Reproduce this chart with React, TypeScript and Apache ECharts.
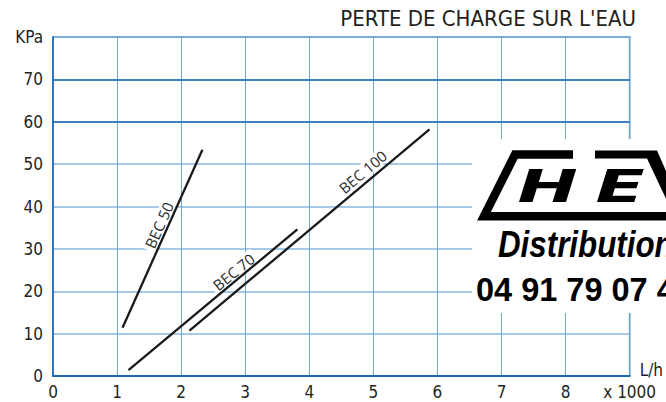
import React, { useEffect, useRef } from 'react';
import * as echarts from 'echarts';

// ---- data ----
const chartTitle = "PERTE DE CHARGE SUR L'EAU";
const xTickLabels = ['0', '1', '2', '3', '4', '5', '6', '7', '8', 'x 1000'];
const yTickLabels = ['0', '10', '20', '30', '40', '50', '60', '70', 'KPa'];
const xUnitName = 'L/h';

const seriesNames = ['BEC 50', 'BEC 70', 'BEC 100'];
const bec50Flow = [1.085, 2.332];
const bec50Loss = [11.4, 53.4];
const bec70Flow = [1.178, 3.814];
const bec70Loss = [1.4, 34.6];
const bec100Flow = [2.13, 5.876];
const bec100Loss = [10.7, 58.2];

const labelFlow = [1.654, 2.817, 4.833];
const labelLoss = [35.6, 24.6, 48.2];
const labelAngles = [66, 39, 40];

const darkGridLevels = [60, 70];

const logoLetters = ['H', 'E'];
const logoTagline = 'Distribution';
const logoPhone = '04 91 79 07 4';

// ---- styles ----
const NARROW = "'Liberation Sans Narrow', 'DejaVu Sans Condensed', 'Liberation Sans', sans-serif";
const DARK_BLUE = '#1c69b4';
const LIGHT_BLUE = '#86b7e2';
const VLINE_BLUE = '#6ea7da';
const TEXT = '#231f20';
const LINE_COLOR = '#1a1a1a';

export default function App() {
  const ref = useRef<HTMLDivElement>(null);

  useEffect(() => {
    if (!ref.current) return;
    const chart = echarts.init(ref.current, undefined, { renderer: 'svg' });

    const flows = [bec50Flow, bec70Flow, bec100Flow];
    const losses = [bec50Loss, bec70Loss, bec100Loss];

    const series: any[] = seriesNames.map((name, i) => ({
      name,
      type: 'line',
      data: flows[i].map((f, j) => [f, losses[i][j]]),
      showSymbol: false,
      symbol: 'none',
      lineStyle: { color: LINE_COLOR, width: 2.3 },
      z: 5,
      markPoint: {
        silent: true,
        symbol: 'circle',
        symbolSize: 0,
        data: [{ coord: [labelFlow[i], labelLoss[i]], name }],
        label: {
          show: true,
          position: 'inside',
          formatter: name,
          rotate: labelAngles[i],
          color: '#2b2b2b',
          fontSize: 15,
          fontFamily: "'Open Sans', 'Noto Sans', sans-serif",
          backgroundColor: '#ffffff',
          padding: [0, 3],
        },
      },
      ...(i === 0
        ? {
            markLine: {
              silent: true,
              symbol: 'none',
              label: { show: false },
              lineStyle: { color: DARK_BLUE, width: 1.5, type: 'solid' },
              data: darkGridLevels.map((v) => ({ yAxis: v })),
              z: 1,
            },
          }
        : {}),
    }));

    chart.setOption({
      animation: false,
      title: {
        text: chartTitle,
        right: 30,
        top: 7,
        padding: 0,
        textStyle: { fontSize: 22, fontWeight: 'normal', color: TEXT, fontFamily: NARROW },
      },
      grid: {
        left: 53,
        top: 37,
        width: 581,
        height: 339,
        show: true,
        borderColor: DARK_BLUE,
        borderWidth: 1.5,
        backgroundColor: 'transparent',
      },
      xAxis: {
        type: 'value',
        min: 0,
        max: 9,
        interval: 1,
        name: xUnitName,
        nameLocation: 'end',
        nameGap: 10,
        nameTextStyle: {
          fontSize: 17,
          color: TEXT,
          fontFamily: NARROW,
          verticalAlign: 'bottom',
          padding: [0, 0, -2, 0],
        },
        axisLine: { show: true, lineStyle: { color: DARK_BLUE, width: 2 } },
        axisTick: { show: false },
        axisLabel: {
          margin: 7,
          fontSize: 17,
          color: TEXT,
          fontFamily: NARROW,
          formatter: (v: number) => xTickLabels[Math.round(v)] ?? '',
        },
        splitLine: { show: true, lineStyle: { color: VLINE_BLUE, width: 1 } },
      },
      yAxis: {
        type: 'value',
        min: 0,
        max: 80,
        interval: 10,
        axisLine: { show: true, lineStyle: { color: DARK_BLUE, width: 1.5 } },
        axisTick: { show: false },
        axisLabel: {
          margin: 10,
          fontSize: 17,
          color: TEXT,
          fontFamily: NARROW,
          formatter: (v: number) => yTickLabels[Math.round(v / 10)] ?? '',
        },
        splitLine: { show: true, lineStyle: { color: LIGHT_BLUE, width: 1.5 } },
      },
      series,
      graphic: [
        {
          type: 'rect',
          z: 100,
          shape: { x: 472, y: 139, width: 200, height: 174 },
          style: { fill: '#ffffff' },
        },
        {
          type: 'polyline',
          z: 101,
          shape: { points: [[573, 154.5], [515, 154.5], [484, 216.2], [672, 216.2]] },
          style: { stroke: '#000', lineWidth: 8.5, fill: 'none', lineJoin: 'miter' },
        },
        {
          type: 'polygon',
          z: 101,
          shape: { points: [[595, 150.5], [657, 150.5], [680, 203], [668, 203], [647, 158.5], [595, 158.5]] },
          style: { fill: '#000' },
        },
        {
          type: 'text',
          z: 102,
          x: 547.7,
          y: 186.7,
          scaleX: 1.6,
          style: {
            text: logoLetters[0],
            fontSize: 45,
            fontWeight: 'bold',
            fontStyle: 'italic',
            fontFamily: "'DejaVu Sans', sans-serif",
            fill: '#000',
            align: 'center',
            verticalAlign: 'middle',
          },
        },
        {
          type: 'text',
          z: 102,
          x: 620.2,
          y: 186.7,
          scaleX: 1.6,
          style: {
            text: logoLetters[1],
            fontSize: 45,
            fontWeight: 'bold',
            fontStyle: 'italic',
            fontFamily: "'DejaVu Sans', sans-serif",
            fill: '#000',
            align: 'center',
            verticalAlign: 'middle',
          },
        },
        {
          type: 'text',
          z: 102,
          x: 498,
          y: 244,
          scaleX: 0.87,
          style: {
            text: logoTagline,
            fontSize: 36,
            fontWeight: 'bold',
            fontStyle: 'italic',
            fontFamily: "'Liberation Sans', Arial, sans-serif",
            fill: '#000',
            align: 'left',
            verticalAlign: 'middle',
          },
        },
        {
          type: 'text',
          z: 102,
          x: 476,
          y: 290.3,
          style: {
            text: logoPhone,
            fontSize: 32.5,
            fontWeight: 'bold',
            fontFamily: "'Liberation Sans', Arial, sans-serif",
            fill: '#000',
            align: 'left',
            verticalAlign: 'middle',
          },
        },
      ],
    });

    return () => chart.dispose();
  }, []);

  return (
    <div
      ref={ref}
      style={{ position: 'absolute', left: 0, top: 0, width: 666, height: 402, background: '#fff' }}
    />
  );
}
